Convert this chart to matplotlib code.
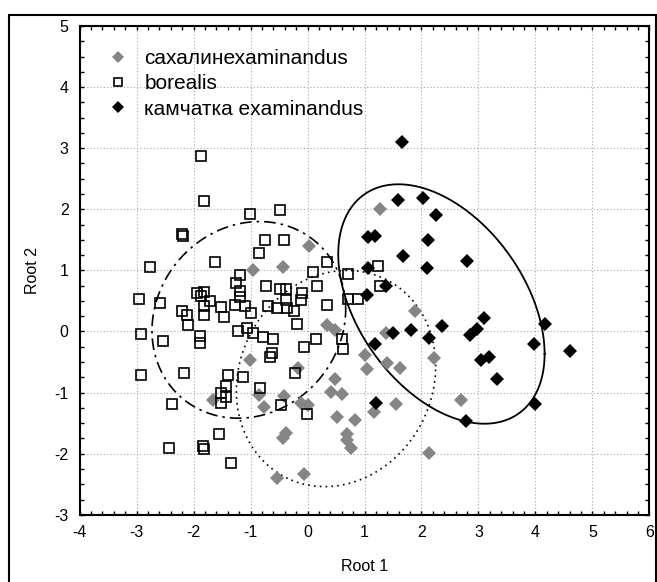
import numpy as np
import matplotlib
matplotlib.use('Agg')
import matplotlib.pyplot as plt
from matplotlib.lines import Line2D
from matplotlib.patches import Rectangle

plt.rcParams['font.family'] = ['Liberation Sans', 'DejaVu Sans']
plt.rcParams['axes.unicode_minus'] = False

# group 1: сахалин examinandus (grey diamonds)
sakh_x = [1.28, 0.03, -0.96, -0.43, 1.88, 0.34, 0.49, 1.38, -1.01, 1.01, 2.22, 1.05, 1.40, 1.63,
          -0.16, 0.49, 0.41, 0.60, -0.41, -0.85, -1.66, -0.12, -0.76, 0.00, 1.17, 1.56, 2.69,
          0.52, 0.84, -0.38, -0.43, 0.69, 0.69, 0.76, 2.13, -0.54, -0.06]
sakh_y = [2.01, 1.40, 1.00, 1.06, 0.33, 0.10, 0.03, -0.02, -0.46, -0.39, -0.44, -0.61, -0.52, -0.60,
          -0.59, -0.78, -0.99, -1.03, -1.05, -1.04, -1.12, -1.17, -1.24, -1.20, -1.32, -1.18, -1.12,
          -1.40, -1.45, -1.66, -1.74, -1.67, -1.77, -1.91, -1.99, -2.39, -2.33]

# group 2: borealis (open squares)
bor_x = [-1.87, -1.82, -1.01, -0.49, -2.20, -2.19, -0.74, -0.42, -0.85, -1.62, -2.76, 0.35, -1.19,
         0.10, 0.71, 1.24, -1.25, -0.73, 0.16, -0.37, -0.48, 1.28, -1.19, -1.81, -1.94, -1.87,
         -0.10, -1.72, -1.19, -2.95, -2.59, -1.82, -1.28, -1.10, -1.51, -0.69, -0.54, -0.36,
         -0.37, -0.12, 0.34, 0.71, 0.88, -0.99, -2.21, -2.12, -1.82, -1.46, -0.24, -2.09, -0.19,
         -1.06, -1.22, -0.96, -2.93, -1.88, -0.78, -0.60, -2.53, -1.88, 0.15, 0.60, 0.63, -0.07,
         -0.62, -0.65, -2.93, -2.16, -1.39, -1.13, -0.22, -1.43, -0.83, -1.52, -1.43, -1.52,
         -2.37, -0.47, -0.01, -1.56, -2.43, -1.84, -1.82, -1.35]
bor_y = [2.87, 2.14, 1.93, 1.99, 1.59, 1.57, 1.49, 1.49, 1.29, 1.14, 1.05, 1.14, 0.92,
         0.97, 0.94, 1.08, 0.80, 0.74, 0.74, 0.70, 0.69, 0.74, 0.67, 0.65, 0.63, 0.58,
         0.63, 0.50, 0.56, 0.53, 0.47, 0.42, 0.44, 0.42, 0.40, 0.41, 0.39, 0.39,
         0.52, 0.52, 0.44, 0.54, 0.54, 0.30, 0.33, 0.27, 0.27, 0.24, 0.33, 0.10, 0.13,
         0.06, 0.00, -0.03, -0.04, -0.07, -0.09, -0.12, -0.15, -0.19, -0.12, -0.12, -0.29, -0.26,
         -0.35, -0.42, -0.71, -0.68, -0.71, -0.74, -0.68, -0.89, -0.92, -1.00, -1.08, -1.17,
         -1.18, -1.21, -1.35, -1.67, -1.91, -1.88, -1.93, -2.16]

# group 3: камчатка examinandus (black diamonds)
kam_x = [1.65, 1.59, 2.03, 2.26, 1.07, 1.18, 2.12, 1.68, 2.80, 1.06, 2.09, 1.37, 1.04, 3.10, 2.36,
         4.16, 1.81, 2.97, 1.50, 2.85, 2.14, 1.18, 3.98, 4.60, 3.05, 3.19, 3.33, 1.21, 4.00, 2.78]
kam_y = [3.10, 2.16, 2.19, 1.90, 1.54, 1.56, 1.49, 1.23, 1.15, 1.04, 1.04, 0.75, 0.60, 0.22, 0.09,
         0.13, 0.03, 0.04, -0.02, -0.05, -0.10, -0.21, -0.21, -0.32, -0.46, -0.41, -0.77, -1.17,
         -1.18, -1.47]

labels = ['сахалинехaminandus', 'borealis', 'камчатка examinandus']

# ellipses: centre and shape matrix [[sxx, sxy], [sxy, syy]]
sakh_centre = [0.50, -0.77]
sakh_shape = [[3.06, 0.35], [0.35, 3.13]]
bor_centre = [-1.03, 0.19]
bor_shape = [[2.89, 0.30], [0.30, 2.59]]
kam_centre = [2.35, 0.45]
kam_shape = [[3.28, -1.48], [-1.48, 3.84]]


def ellipse_points(centre, shape, n=300):
    t = np.linspace(0, 2 * np.pi, n)
    L = np.linalg.cholesky(np.array(shape))
    pts = L @ np.vstack([np.cos(t), np.sin(t)])
    return pts[0] + centre[0], pts[1] + centre[1]


fig = plt.figure(figsize=(6.57, 5.82), dpi=100)
ax = fig.add_axes([0.1212, 0.1155, 0.8672, 0.8398])

grey = '#858585'
dsize = 6.8
ax.plot(sakh_x, sakh_y, 'D', color=grey, markersize=dsize, markeredgewidth=0, label=labels[0], zorder=3)
ax.plot(bor_x, bor_y, 's', mfc='none', mec='black', markersize=6.8, markeredgewidth=1.2, label=labels[1], zorder=4)
ax.plot(kam_x, kam_y, 'D', color='black', markersize=dsize, markeredgewidth=0, label=labels[2], zorder=5)

ex, ey = ellipse_points(sakh_centre, sakh_shape)
ax.plot(ex, ey, color='black', lw=1.2, linestyle=(0, (1, 2.5)), zorder=2)
ex, ey = ellipse_points(bor_centre, bor_shape)
ax.plot(ex, ey, color='black', lw=1.2, linestyle=(0, (7, 3, 1.5, 3)), zorder=2)
ex, ey = ellipse_points(kam_centre, kam_shape)
ax.plot(ex, ey, color='black', lw=1.3, linestyle='-', zorder=2)

ax.set_xlim(-4, 6)
ax.set_ylim(-3, 5)
ax.set_xticks(np.arange(-4, 7, 1))
ax.set_yticks(np.arange(-3, 6, 1))
ax.set_xticks(np.arange(-4, 6.01, 0.2), minor=True)
ax.set_yticks(np.arange(-3, 5.01, 0.25), minor=True)
ax.grid(True, which='major', linestyle=(0, (1, 2)), color='#a8a8a8', lw=0.8)
ax.set_axisbelow(True)
ax.tick_params(which='both', direction='in', top=True, right=True, length=3, width=1, labelsize=11.5)
ax.tick_params(axis='x', pad=7)
ax.tick_params(axis='y', pad=8)
for s in ax.spines.values():
    s.set_linewidth(1.5)

ax.set_xlabel('Root 1', fontsize=11.5, labelpad=14)
ax.set_ylabel('Root 2', fontsize=11.5, labelpad=10)

handles = [
    Line2D([], [], marker='D', color=grey, linestyle='none', markersize=6, markeredgewidth=0),
    Line2D([], [], marker='s', mfc='none', mec='black', linestyle='none', markersize=6, markeredgewidth=1.2),
    Line2D([], [], marker='D', color='black', linestyle='none', markersize=6, markeredgewidth=0),
]
ax.legend(handles, labels, loc='upper left', bbox_to_anchor=(0.035, 0.97), frameon=False,
          fontsize=15, handlelength=1.0, handletextpad=0.75, labelspacing=0.3, borderaxespad=0)

# outer frame around the whole figure
fig.patches.append(Rectangle((9 / 657, -0.05), 647 / 657, 1.05 - 15 / 582, transform=fig.transFigure,
                             fill=False, edgecolor='black', linewidth=1.5))

fig.savefig('out.png', dpi=100)
